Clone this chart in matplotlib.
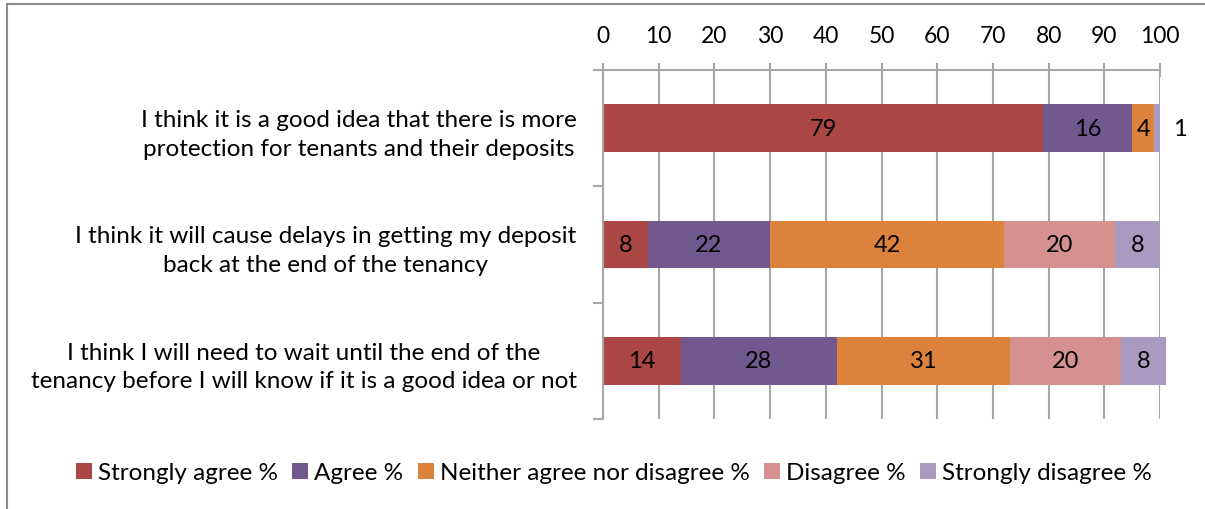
import matplotlib
matplotlib.use("Agg")
import matplotlib.pyplot as plt
from matplotlib.lines import Line2D

categories = [
    "I think it is a good idea that there is more\nprotection for tenants and their deposits",
    "I think it will cause delays in getting my deposit\nback at the end of the tenancy",
    "I think I will need to wait until the end of the\ntenancy before I will know if it is a good idea or not",
]
series_names = ["Strongly agree %", "Agree %", "Neither agree nor disagree %",
                "Disagree %", "Strongly disagree %"]
strongly_agree = [79, 8, 14]
agree = [16, 22, 28]
neither = [4, 42, 31]
disagree = [0, 20, 20]
strongly_disagree = [1, 8, 8]
xticks = [0, 10, 20, 30, 40, 50, 60, 70, 80, 90, 100]

colors = ["#AA4744", "#71598F", "#DC823C", "#D49190", "#A99BBF"]
series = [strongly_agree, agree, neither, disagree, strongly_disagree]

plt.rcParams['font.family'] = ['Lato', 'DejaVu Sans']
fs_lab = 17.5
fs_tick = 16.5
fs_val = 17

fig = plt.figure(figsize=(12.05, 5.10), dpi=100)
ax = fig.add_axes([603/1205, 1-420/510, (1160-603)/1205, (420-71)/510])

ypos = [2, 1, 0]
gridc = "#A6A6A6"
ax.set_xlim(0, 100)
ax.set_ylim(-0.5, 2.5)
ax.set_axisbelow(True)
ax.grid(axis='x', color=gridc, linewidth=1.5)

left = [0, 0, 0]
for name, vals, c in zip(series_names, series, colors):
    bars = ax.barh(ypos, vals, left=left, height=0.41, color=c, label=name)
    for b in bars:
        b.set_clip_on(False)
    for y, l, v in zip(ypos, left, vals):
        if v >= 2:
            ax.text(l + v/2, y, str(v), ha='center', va='center', fontsize=fs_val, color='black')
        elif v > 0:
            ax.text(l + v + 2.3, y, str(v), ha='left', va='center', fontsize=fs_val, color='black')
    left = [a + b for a, b in zip(left, vals)]

ax.xaxis.tick_top()
ax.set_xticks(xticks)
ax.set_xticklabels([str(t) for t in xticks], fontsize=fs_tick)
ax.tick_params(axis='x', direction='inout', length=10, width=1.5, color=gridc, pad=12)

ax.set_yticks(ypos)
ax.set_yticklabels(categories, fontsize=fs_lab, ha='right', multialignment='center',
                   linespacing=1.45)
ax.tick_params(axis='y', length=0, pad=19)
ax.set_yticks([-0.5, 0.5, 1.5, 2.5], minor=True)
ax.tick_params(axis='y', which='minor', direction='out', length=7, width=1.5, color=gridc)

for s in ['right', 'bottom']:
    ax.spines[s].set_visible(False)
for s in ['top', 'left']:
    ax.spines[s].set_color(gridc)
    ax.spines[s].set_linewidth(1.5)

leg = fig.legend(loc='center', bbox_to_anchor=(614/1205, 1-474/510), ncol=5, frameon=False,
                 fontsize=fs_lab, handlelength=0.65, handleheight=0.65, handletextpad=0.25,
                 columnspacing=0.6)

# outer chart frame
fig.add_artist(Line2D([7/1205, 7/1205], [0, 1-5/510], transform=fig.transFigure,
                      color="#8C8C8C", linewidth=1.5))
fig.add_artist(Line2D([7/1205, 1], [1-5/510, 1-5/510], transform=fig.transFigure,
                      color="#8C8C8C", linewidth=1.5))

fig.savefig("out.png", dpi=100)
